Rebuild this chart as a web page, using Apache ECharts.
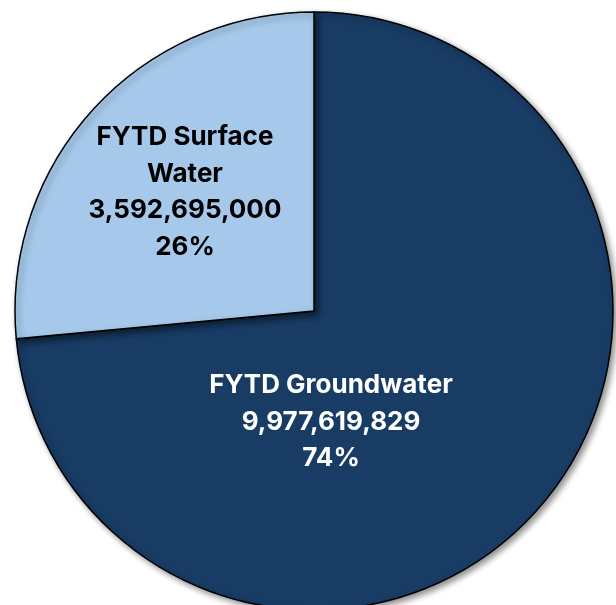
<!DOCTYPE html>
<html>
<head>
<meta charset="utf-8">
<script src="https://cdn.jsdelivr.net/npm/echarts@6/dist/echarts.min.js"></script>
<style>html,body{margin:0;padding:0;background:#fff;}#c{width:616px;height:605px;}</style>
</head>
<body>
<div id="c"></div>
<script>
const categories = ['FYTD Groundwater', 'FYTD Surface\nWater'];
const values = [9977619829, 3592695000];
const colors = ['#183c64', '#a6c9eb'];
const labelColors = ['#ffffff', '#000000'];
const labelPos = [[331, 422], [185, 192]];

const chart = echarts.init(document.getElementById('c'), null, {renderer: 'canvas'});
chart.setOption({
  animation: false,
  series: [{
    type: 'pie',
    center: [314, 311],
    radius: 299,
    startAngle: 90,
    clockwise: true,
    percentPrecision: 0,
    avoidLabelOverlap: false,
    data: categories.map((n, i) => ({
      name: n, value: values[i],
      itemStyle: {color: colors[i]},
      label: {color: labelColors[i]}
    })),
    itemStyle: {
      borderColor: '#000', borderWidth: 1.5,
      shadowBlur: 6, shadowOffsetX: 3, shadowOffsetY: 3, shadowColor: 'rgba(0,0,0,0.45)'
    },
    label: {
      show: true, position: 'inside',
      fontFamily: 'Inter', fontWeight: 'bold', fontSize: 26, lineHeight: 36.5,
      align: 'center',
      formatter: p => p.name + '\n' + p.value.toLocaleString('en-US') + '\n' + p.percent + '%'
    },
    labelLine: {show: false},
    labelLayout: p => ({x: labelPos[p.dataIndex][0], y: labelPos[p.dataIndex][1], align: 'center', verticalAlign: 'middle'}),
    emphasis: {disabled: true}
  }]
});
</script>
</body>
</html>
